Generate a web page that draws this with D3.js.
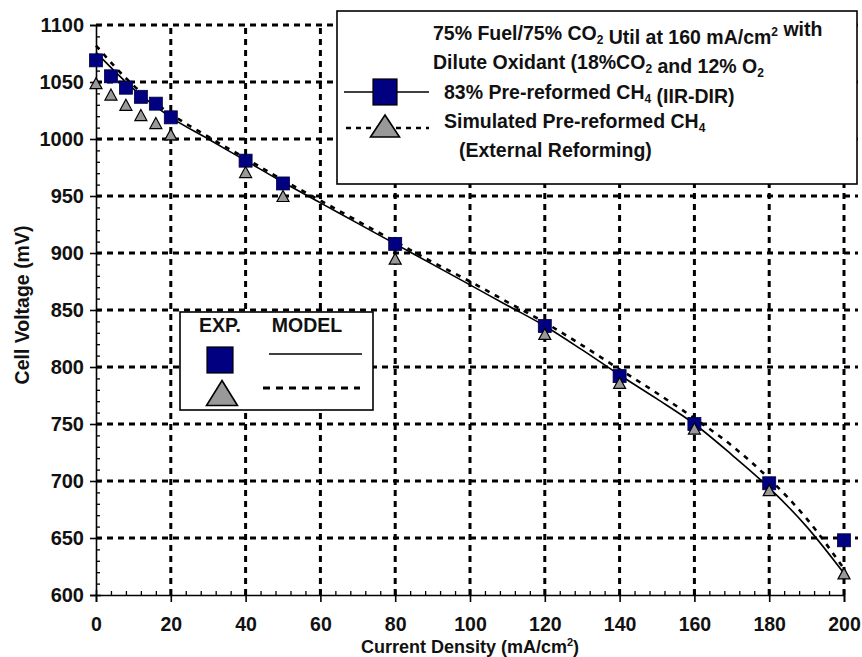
<!DOCTYPE html>
<html>
<head>
<meta charset="utf-8">
<script src="https://cdn.jsdelivr.net/npm/d3@7/dist/d3.min.js"></script>
<style>
  body { margin: 0; background: #fff; }
  svg { display: block; font-family: "Liberation Sans", Arial, sans-serif; font-weight: bold; }
</style>
</head>
<body>
<svg id="chart" width="862" height="657"></svg>
<script>
// ---- data ----
const expX = [0, 4, 8, 12, 16, 20, 40, 50, 80, 120, 140, 160, 180, 200];
const expIIR = [1069, 1055, 1045, 1037, 1031, 1019, 981, 961, 908, 836, 792, 750, 698, 648];
const expSim = [1049, 1039, 1030, 1021, 1014, 1004, 971, 950, 895, 829, 786, 746, 692, 619];

const modelX = [0, 10, 20, 30, 40, 50, 60, 70, 80, 90, 100, 110, 120, 130, 140, 150, 160, 170, 180, 190, 200];
const modelIIR = [1076, 1044, 1019, 1000, 981, 962, 944, 926, 908, 890, 872, 854, 836, 815, 793, 772, 750, 723, 694, 660, 619];
const modelSim = [1082, 1047, 1022, 1002, 983, 964, 946, 928, 910, 892, 875, 857, 839, 819, 798, 777, 755, 731, 702, 667, 623];

const xTicks = [0, 20, 40, 60, 80, 100, 120, 140, 160, 180, 200];
const yTicks = [600, 650, 700, 750, 800, 850, 900, 950, 1000, 1050, 1100];

const svg = d3.select("#chart");
const x = d3.scaleLinear().domain([0, 200]).range([96, 844]);
const y = d3.scaleLinear().domain([600, 1100]).range([595, 25]);
const FS = 19.5;

// ---- grid ----
const grid = svg.append("g");
grid.selectAll("line.v").data(xTicks.slice(1)).enter().append("line")
  .attr("x1", d => x(d)).attr("x2", d => x(d)).attr("y1", y(600)).attr("y2", y(1100))
  .attr("stroke", "#000").attr("stroke-width", 3).attr("stroke-dasharray", "6,5");
grid.selectAll("line.h").data(yTicks.slice(1)).enter().append("line")
  .attr("x1", x(0)).attr("x2", x(200) + 14).attr("y1", d => y(d)).attr("y2", d => y(d))
  .attr("stroke", "#000").attr("stroke-width", 3).attr("stroke-dasharray", "6,5");

// ---- axes ----
const xMinor = d3.range(0, 201, 4).filter(v => v % 20 !== 0);
const yMinor = d3.range(600, 1101, 10).filter(v => v % 50 !== 0);

const gx = svg.append("g").attr("transform", `translate(0,${y(600)})`)
  .call(d3.axisBottom(x).tickValues(xTicks).tickSize(7).tickFormat(d3.format("d")));
gx.select(".domain").attr("stroke-width", 1.6);
gx.selectAll(".tick line").attr("y1", -5).attr("y2", 7).attr("stroke-width", 1.6);
gx.selectAll(".tick text").attr("y", 22).attr("font-size", 19.5).attr("font-weight", "bold")
  .attr("font-family", "Liberation Sans, Arial, sans-serif").attr("fill", "#111");
svg.append("g").attr("transform", `translate(0,${y(600)})`)
  .call(d3.axisTop(x).tickValues(xMinor).tickSize(4).tickFormat(""))
  .call(g => g.select(".domain").remove())
  .selectAll(".tick line").attr("stroke-width", 1.3);

const gy = svg.append("g").attr("transform", `translate(${x(0)},0)`)
  .call(d3.axisLeft(y).tickValues(yTicks).tickSize(6).tickFormat(d3.format("d")));
gy.select(".domain").attr("stroke-width", 1.6);
gy.selectAll(".tick line").attr("x1", -6).attr("x2", 5).attr("stroke-width", 1.6);
gy.selectAll(".tick text").attr("x", -12).attr("font-size", 20).attr("font-weight", "bold")
  .attr("font-family", "Liberation Sans, Arial, sans-serif").attr("fill", "#111");
svg.append("g").attr("transform", `translate(${x(0)},0)`)
  .call(d3.axisRight(y).tickValues(yMinor).tickSize(4).tickFormat(""))
  .call(g => g.select(".domain").remove())
  .selectAll(".tick line").attr("stroke-width", 1.3);

// ---- axis titles ----
const xt = svg.append("text").attr("x", 470).attr("y", 653).attr("text-anchor", "middle")
  .attr("font-size", 18).attr("fill", "#111");
xt.append("tspan").text("Current Density (mA/cm");
xt.append("tspan").attr("font-size", 11).attr("dy", -7).text("2");
xt.append("tspan").attr("dy", 7).text(")");

svg.append("text").attr("transform", "translate(29,305) rotate(-90)").attr("text-anchor", "middle")
  .attr("font-size", FS).attr("fill", "#111").text("Cell Voltage (mV)");

// ---- model lines ----
const line = d3.line().x(d => x(d[0])).y(d => y(d[1])).curve(d3.curveMonotoneX);
svg.append("path").datum(modelX.map((v, i) => [v, modelIIR[i]])).attr("d", line)
  .attr("fill", "none").attr("stroke", "#000").attr("stroke-width", 1.6);
svg.append("path").datum(modelX.map((v, i) => [v, modelSim[i]])).attr("d", line)
  .attr("fill", "none").attr("stroke", "#000").attr("stroke-width", 2.6).attr("stroke-dasharray", "5,6");

// ---- markers ----
const sq = 13;
svg.append("g").selectAll("rect").data(expX.map((v, i) => [v, expIIR[i]])).enter().append("rect")
  .attr("x", d => x(d[0]) - sq / 2).attr("y", d => y(d[1]) - sq / 2)
  .attr("width", sq).attr("height", sq)
  .attr("fill", "#000080").attr("stroke", "#000040").attr("stroke-width", 0.8);
const tri = (cx, cy, w, h) => `M${cx},${cy - h / 2}L${cx + w / 2},${cy + h / 2}L${cx - w / 2},${cy + h / 2}Z`;
svg.append("g").selectAll("path").data(expX.map((v, i) => [v, expSim[i]])).enter().append("path")
  .attr("d", d => tri(x(d[0]), y(d[1]), 12, 11))
  .attr("fill", "#999").attr("stroke", "#000").attr("stroke-width", 1.2);

// ---- top-right legend ----
const L1 = svg.append("g");
L1.append("rect").attr("x", 337).attr("y", 11).attr("width", 520).attr("height", 173)
  .attr("fill", "#fff").attr("stroke", "#000").attr("stroke-width", 1.6);
function addText(g, xx, yy, parts) {
  const t = g.append("text").attr("x", xx).attr("y", yy).attr("font-size", FS).attr("fill", "#111");
  parts.forEach(p => {
    if (typeof p === "string") t.append("tspan").text(p);
    else if (p.sub) { t.append("tspan").attr("font-size", 12).attr("dy", 4).text(p.sub); t.append("tspan").attr("dy", -4).text(""); }
    else if (p.sup) { t.append("tspan").attr("font-size", 12).attr("dy", -8).text(p.sup); t.append("tspan").attr("dy", 8).text(""); }
  });
  return t;
}
addText(L1, 433, 40, ["75% Fuel/75% CO", {sub: "2"}, " Util at 160 mA/cm", {sup: "2"}, " with"]);
addText(L1, 433, 69, ["Dilute Oxidant (18%CO", {sub: "2"}, " and 12% O", {sub: "2"}]);
addText(L1, 444, 99, ["83% Pre-reformed CH", {sub: "4"}, " (IIR-DIR)"]);
addText(L1, 444, 128, ["Simulated Pre-reformed CH", {sub: "4"}]);
addText(L1, 459, 157, ["(External Reforming)"]);
L1.append("line").attr("x1", 344).attr("x2", 429).attr("y1", 92).attr("y2", 92).attr("stroke", "#000").attr("stroke-width", 1.6);
L1.append("rect").attr("x", 373).attr("y", 79).attr("width", 24).attr("height", 26)
  .attr("fill", "#000080").attr("stroke", "#000").attr("stroke-width", 1.2);
L1.append("line").attr("x1", 346).attr("x2", 429).attr("y1", 128).attr("y2", 128).attr("stroke", "#000")
  .attr("stroke-width", 2.6).attr("stroke-dasharray", "5,5");
L1.append("path").attr("d", tri(385, 126, 29, 22)).attr("fill", "#999").attr("stroke", "#000").attr("stroke-width", 1.6);

// ---- inner legend ----
const L2 = svg.append("g");
L2.append("rect").attr("x", 180).attr("y", 312).attr("width", 193).attr("height", 98)
  .attr("fill", "#fff").attr("stroke", "#000").attr("stroke-width", 1.6);
L2.append("text").attr("x", 220).attr("y", 332).attr("text-anchor", "middle").attr("font-size", FS).attr("fill", "#111").text("EXP.");
L2.append("text").attr("x", 307).attr("y", 332).attr("text-anchor", "middle").attr("font-size", FS).attr("fill", "#111").text("MODEL");
L2.append("rect").attr("x", 207).attr("y", 347).attr("width", 26).attr("height", 26)
  .attr("fill", "#000080").attr("stroke", "#000").attr("stroke-width", 1.2);
L2.append("path").attr("d", tri(222, 393, 31, 25)).attr("fill", "#999").attr("stroke", "#000").attr("stroke-width", 1.6);
L2.append("line").attr("x1", 269).attr("x2", 362).attr("y1", 354).attr("y2", 354).attr("stroke", "#000").attr("stroke-width", 1.6);
L2.append("line").attr("x1", 263).attr("x2", 360).attr("y1", 388).attr("y2", 388).attr("stroke", "#000")
  .attr("stroke-width", 3).attr("stroke-dasharray", "7,6");
</script>
</body>
</html>
